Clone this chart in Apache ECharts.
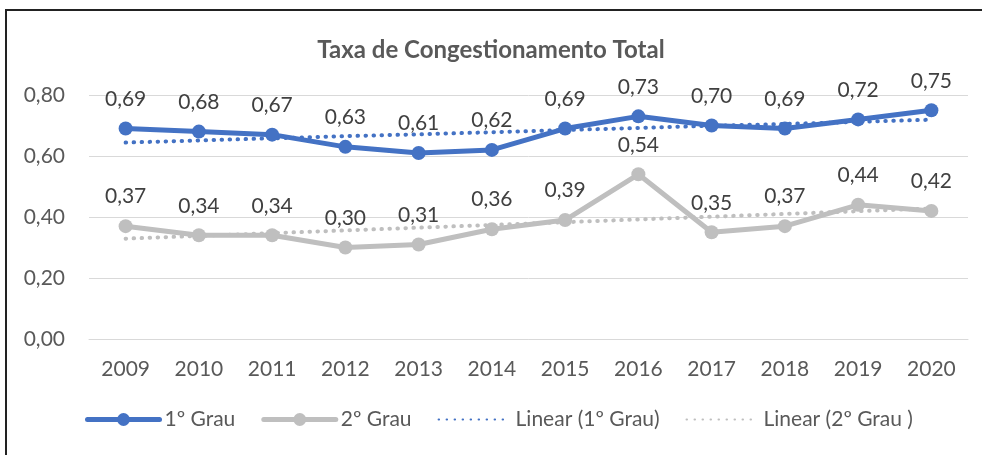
<!DOCTYPE html>
<html>
<head>
<meta charset="utf-8">
<script src="https://cdn.jsdelivr.net/npm/echarts@6/dist/echarts.min.js"></script>
<style>
    html, body { margin: 0; padding: 0; background: #fff; }
    #frame { position: absolute; left: 5px; top: 9px; width: 977px; height: 446px;
             border-left: 2px solid #222; border-top: 2px solid #222; box-sizing: border-box; }
    #chart { position: absolute; left: 0; top: 0; width: 982px; height: 455px; }
</style>
</head>
<body>
<div id="frame"></div>
<div id="chart"></div>
<script>
// 年份
let years = ['2009', '2010', '2011', '2012', '2013', '2014', '2015', '2016', '2017', '2018', '2019', '2020'];
// 1º Grau
let grau1 = [0.69, 0.68, 0.67, 0.63, 0.61, 0.62, 0.69, 0.73, 0.70, 0.69, 0.72, 0.75];
// 2º Grau
let grau2 = [0.37, 0.34, 0.34, 0.30, 0.31, 0.36, 0.39, 0.54, 0.35, 0.37, 0.44, 0.42];
// 趋势线
let linear1 = [0.644, 0.651, 0.658, 0.665, 0.671, 0.678, 0.685, 0.692, 0.699, 0.705, 0.712, 0.719];
let linear2 = [0.329, 0.338, 0.347, 0.356, 0.365, 0.374, 0.383, 0.392, 0.401, 0.410, 0.419, 0.428];

let fontName = 'Lato, "Open Sans", sans-serif';
let blue = '#4472C4';
let gray = '#BFBFBF';
let textColor = '#595959';

function fmt(v) {
    return v.toFixed(2).replace('.', ',');
}

let labelStyle = {
    show: true,
    position: 'top',
    distance: 12,
    fontFamily: fontName,
    fontSize: 21,
    color: '#404040',
    formatter: function (p) { return fmt(p.value); }
};

let option = {
    animation: false,
    title: {
        text: 'Taxa de Congestionamento Total',
        left: 'center',
        top: 33,
        textStyle: { fontFamily: fontName, fontSize: 24, fontWeight: 'bold', color: textColor }
    },
    grid: { left: 89, right: 14, top: 95, bottom: 116 },
    legend: {
        left: 80,
        bottom: 20,
        itemWidth: 72,
        itemHeight: 16,
        itemGap: 26,
        textStyle: { fontFamily: fontName, fontSize: 21, color: textColor },
        data: [
            { name: '1º Grau', lineStyle: { width: 5, cap: 'round' } },
            { name: '2º Grau', lineStyle: { width: 5, cap: 'round' } },
            { name: 'Linear (1º Grau)', itemStyle: { opacity: 0 } },
            { name: 'Linear (2º Grau )', itemStyle: { opacity: 0 } }
        ]
    },
    xAxis: {
        type: 'category',
        data: years,
        boundaryGap: true,
        axisLine: { lineStyle: { color: '#D9D9D9', width: 1 } },
        axisTick: { show: false },
        axisLabel: { margin: 20, fontFamily: fontName, fontSize: 21, color: textColor }
    },
    yAxis: {
        type: 'value',
        min: 0,
        max: 0.8,
        interval: 0.2,
        axisLine: { show: false },
        axisTick: { show: false },
        splitLine: { lineStyle: { color: '#D9D9D9', width: 1 } },
        axisLabel: { margin: 24, fontFamily: fontName, fontSize: 21, color: textColor, formatter: fmt }
    },
    series: [
        {
            name: 'Linear (1º Grau)',
            type: 'line',
            data: linear1,
            symbol: 'none',
            z: 1,
            itemStyle: { color: blue },
            lineStyle: { color: blue, width: 4, type: [0.5, 7.5], cap: 'round' }
        },
        {
            name: 'Linear (2º Grau )',
            type: 'line',
            data: linear2,
            symbol: 'none',
            z: 1,
            itemStyle: { color: gray },
            lineStyle: { color: gray, width: 4, type: [0.5, 7.5], cap: 'round' }
        },
        {
            name: '1º Grau',
            type: 'line',
            data: grau1,
            symbol: 'circle',
            symbolSize: 14,
            z: 3,
            itemStyle: { color: blue },
            lineStyle: { color: blue, width: 5 },
            label: labelStyle
        },
        {
            name: '2º Grau',
            type: 'line',
            data: grau2,
            symbol: 'circle',
            symbolSize: 14,
            z: 2,
            itemStyle: { color: gray },
            lineStyle: { color: gray, width: 5 },
            label: labelStyle
        }
    ]
};

let myChart = echarts.init(document.getElementById('chart'));
myChart.setOption(option);
</script>
</body>
</html>
